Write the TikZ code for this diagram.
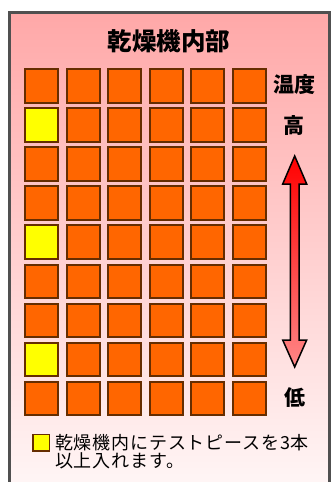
\documentclass[tikz,border=0pt]{standalone}
\usepackage{fontspec}
\newfontfamily\jp{Noto Sans CJK JP}
\newfontfamily\jpwide[LetterSpace=4.5]{Noto Sans CJK JP}
\definecolor{bgtop}{RGB}{255,168,168}
\definecolor{bgbot}{RGB}{255,247,247}
\definecolor{frame}{RGB}{80,80,80}
\definecolor{cellfill}{RGB}{255,102,0}
\definecolor{cellline}{RGB}{102,45,0}
\definecolor{testfill}{RGB}{255,255,0}
\definecolor{arrtop}{RGB}{255,0,0}
\definecolor{arrbot}{RGB}{255,135,135}
\tikzset{
  cell/.style={draw=cellline, line width=2pt, fill=cellfill, minimum width=33pt, minimum height=33.5pt, inner sep=0pt},
  testcell/.style={cell, fill=testfill},
  legendbox/.style={draw=cellline, line width=1.5pt, fill=testfill, minimum size=16.5pt, inner sep=0pt},
  bigtitle/.style={font=\jp\bfseries\fontsize{24.5}{26}\selectfont, inner sep=0pt},
  sidelabel/.style={font=\jp\bfseries\fontsize{21}{23}\selectfont, inner sep=0pt},
  legendtext/.style={font=\jpwide\fontsize{18}{19}\selectfont, inner sep=0pt, anchor=west}
}
\begin{document}
\begin{tikzpicture}[x=1pt,y=-1pt]
\useasboundingbox (0,0) rectangle (331,482);
\begin{scope}
\clip (0,0) rectangle (331,482);
\shade[top color=bgtop, bottom color=bgbot, draw=frame, line width=2.8pt] (9.5,12.5) rectangle (329.5,495);
\end{scope}
\node[bigtitle] (title) at (169,41) {乾燥機内部};
\foreach \j in {0,...,8}{
  \foreach \i in {0,...,5}{
    \pgfmathsetmacro{\cx}{41.8+41.5*\i}
    \pgfmathsetmacro{\cy}{85.8+39.1*\j}
    \node[cell] (c-\i-\j) at (\cx,\cy) {};
  }
}
\foreach \j in {1,4,7}{
  \pgfmathsetmacro{\cy}{85.8+39.1*\j}
  \node[testcell] (t-\j) at (41.8,\cy) {};
}
\node[sidelabel] (temp) at (294,85) {温度};
\node[sidelabel] (high) at (294,126) {高};
\node[sidelabel] (low) at (295,398) {低};
\shade[top color=arrtop, bottom color=arrbot, draw=black, line width=1.5pt, line join=miter]
  (294.7,156) -- (306.7,184) -- (299,184) -- (299,340) -- (306.7,340) -- (294.7,367)
  -- (282.7,340) -- (290.4,340) -- (290.4,184) -- (282.7,184) -- cycle;
\node[legendbox] (key) at (41,442.5) {};
\node[legendtext] (keytext1) at (55,442.5) {乾燥機内にテストピースを3本};
\node[legendtext] (keytext2) at (55,460.5) {以上入れます。};
\end{tikzpicture}
\end{document}
